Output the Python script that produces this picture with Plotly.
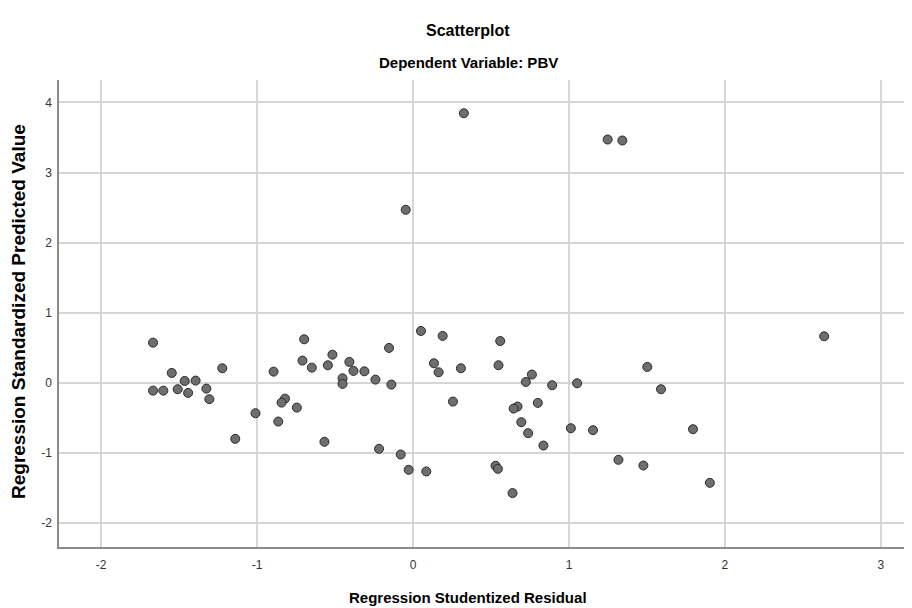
import plotly.graph_objects as go

# Regression Studentized Residual (x) and Regression Standardized Predicted Value (y)
studentized_residual = [
    -1.667, -1.547, -1.464, -1.394, -1.667, -1.601, -1.509, -1.442, -1.325, -1.306,
    -1.223, -1.010, -1.140, -0.894, -0.698, -0.709, -0.649, -0.517, -0.546, -0.821,
    -0.843, -0.745, -0.864, -0.568, -0.047, 0.051, 0.190, 0.559, -0.154, -0.408,
    -0.382, -0.312, -0.452, -0.452, -0.241, -0.139, 0.134, 0.164, 0.307, 0.548,
    0.762, 0.723, 0.892, 1.052, 0.256, 0.670, 0.645, 0.800, 0.694, 0.738,
    0.836, 1.012, 1.154, 1.317, -0.218, -0.079, -0.028, 0.085, 0.529, 0.544,
    0.638, 2.636, 1.502, 1.590, 1.795, 1.477, 1.903, 0.326, 1.248, 1.342,
]
standardized_predicted = [
    0.574, 0.142, 0.028, 0.033, -0.110, -0.110, -0.090, -0.142, -0.081, -0.232,
    0.209, -0.432, -0.798, 0.161, 0.622, 0.318, 0.218, 0.403, 0.252, -0.224,
    -0.281, -0.352, -0.551, -0.840, 2.469, 0.741, 0.670, 0.598, 0.499, 0.299,
    0.171, 0.166, 0.066, -0.014, 0.047, -0.024, 0.280, 0.152, 0.209, 0.252,
    0.119, 0.014, -0.033, -0.005, -0.266, -0.337, -0.366, -0.285, -0.560, -0.717,
    -0.893, -0.646, -0.674, -1.097, -0.940, -1.021, -1.239, -1.263, -1.182, -1.225,
    -1.571, 0.665, 0.228, -0.090, -0.660, -1.178, -1.425, 3.846, 3.471, 3.457,
]
x_ticks = [-2, -1, 0, 1, 2, 3]
y_ticks = [-2, -1, 0, 1, 2, 3, 4]

title_text = "Scatterplot"
subtitle_text = "Dependent Variable: PBV"
x_title = "Regression Studentized Residual"
y_title = "Regression Standardized Predicted Value"

font = "Liberation Sans, Arial, sans-serif"

fig = go.Figure()
fig.add_trace(go.Scatter(
    x=studentized_residual, y=standardized_predicted, mode="markers",
    marker=dict(size=9, color="#6e6e6e", line=dict(color="#2b2b2b", width=1)),
    showlegend=False, hoverinfo="x+y",
))

# page body adds an 8px offset, so the figure is 8px smaller
W, H = 904, 600
L, R, T, B = 51, 3, 72, 61
PW, PH = W - L - R, H - T - B


def px(xp):
    return (xp - L) / PW


def py(yp):
    return (H - B - yp) / PH


fig.update_layout(
    width=W, height=H,
    margin=dict(l=L, r=R, t=T, b=B),
    paper_bgcolor="white", plot_bgcolor="white",
    xaxis=dict(
        range=[-2.27, 3.18], tickvals=x_ticks, ticktext=[str(v) for v in x_ticks],
        showgrid=True, gridcolor="#d6d6d6", gridwidth=1.5, zeroline=False,
        showline=True, linecolor="#8a8a8a", linewidth=1.5,
        tickfont=dict(family=font, size=12, color="#333333"), ticks="",
        ticklabelstandoff=6,
    ),
    yaxis=dict(
        range=[-2.34, 4.32], tickvals=y_ticks, ticktext=[str(v) for v in y_ticks],
        showgrid=True, gridcolor="#d6d6d6", gridwidth=1.5, zeroline=False,
        showline=True, linecolor="#8a8a8a", linewidth=1.5,
        tickfont=dict(family=font, size=12, color="#333333"), ticks="",
        ticklabelstandoff=3,
    ),
)

fig.add_annotation(text="<b>" + title_text + "</b>", xref="paper", yref="paper",
                   x=px(460), y=py(22), showarrow=False, yanchor="middle",
                   font=dict(family=font, size=16, color="black"))
fig.add_annotation(text="<b>" + subtitle_text + "</b>", xref="paper", yref="paper",
                   x=px(460), y=py(55), showarrow=False, yanchor="middle",
                   font=dict(family=font, size=15, color="black"))
fig.add_annotation(text="<b>" + x_title + "</b>", xref="paper", yref="paper",
                   x=px(460), y=py(589), showarrow=False, yanchor="middle",
                   font=dict(family=font, size=15, color="black"))
fig.add_annotation(text="<b>" + y_title + "</b>", xref="paper", yref="paper",
                   x=px(10), y=py(304), showarrow=False, textangle=-90,
                   xanchor="center", yanchor="middle",
                   font=dict(family=font, size=19, color="black"))

fig.write_html("out.html")
